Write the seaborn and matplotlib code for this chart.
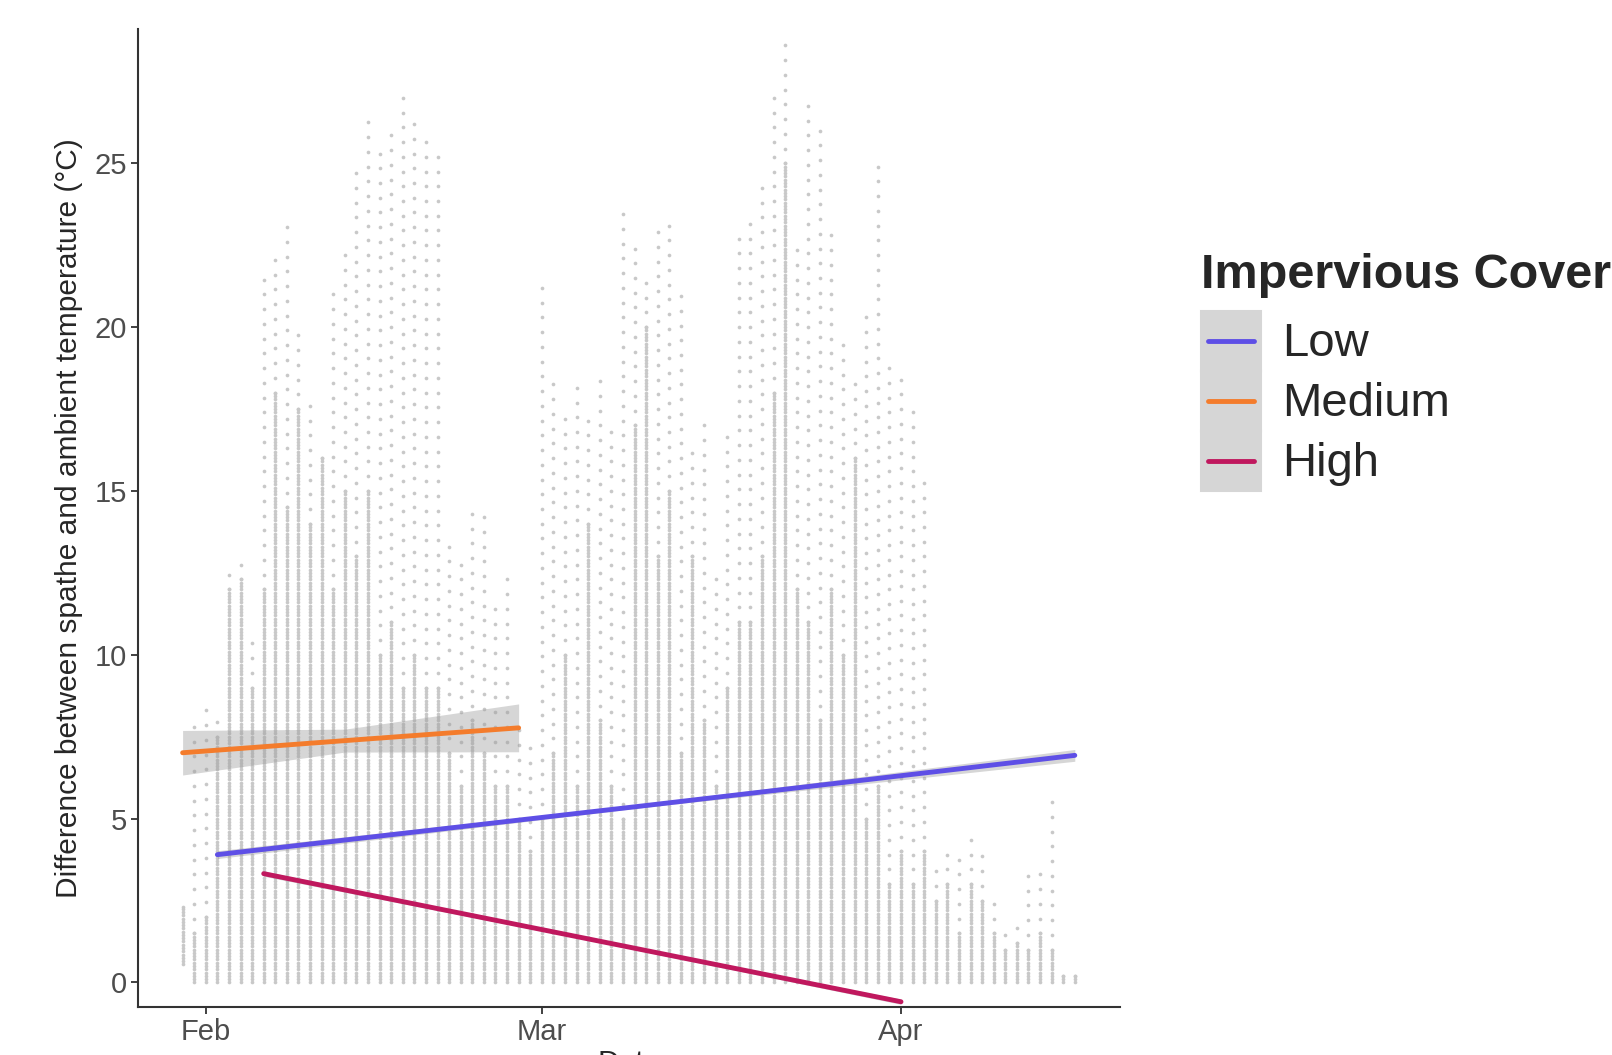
import numpy as np
import pandas as pd
import seaborn as sns
import matplotlib.pyplot as plt
import matplotlib.dates as mdates
from matplotlib.patches import Patch
from matplotlib.lines import Line2D
from matplotlib.legend_handler import HandlerTuple, HandlerLine2D

sns.set_style("ticks")
plt.rcParams['font.family'] = ['Liberation Sans', 'DejaVu Sans']

start = pd.Timestamp("2020-02-01")

# daily readings: day offset from 1 Feb, bottom, top of the dense band, highest reading
day_offset = list(range(-2, 76))
col_low = [0.55] + [0.0] * 77
dense_top = [2.3, 1.5, 2.0, 7.5, 12.0, 12.3, 9.0, 12.0, 18.0, 14.5,
             17.5, 14.0, 16.0, 12.0, 15.0, 13.0, 15.0, 10.0, 11.0, 9.0,
             10.0, 9.0, 9.0, 7.0, 6.0, 8.0, 7.0, 6.0, 6.0, 5.0,
             4.0, 5.0, 7.0, 10.0, 6.0, 14.0, 8.0, 6.0, 5.0, 17.0,
             20.0, 13.0, 15.0, 7.0, 13.0, 8.0, 6.0, 9.0, 11.0, 11.0,
             13.0, 18.0, 25.0, 12.0, 11.0, 8.0, 12.0, 10.0, 16.0, 5.0,
             6.0, 3.0, 4.0, 3.0, 4.0, 2.5, 3.0, 1.5, 3.0, 2.5,
             1.5, 1.0, 1.2, 1.0, 1.5, 1.0, 0.2, 0.2]
col_max = [2.3, 8.0, 8.5, 8.3, 12.7, 12.8, 10.5, 21.7, 22.2, 23.2,
           20.0, 18.0, 16.2, 21.0, 22.5, 24.8, 26.5, 25.5, 26.2, 27.1,
           26.5, 26.0, 25.2, 13.7, 13.0, 14.6, 14.6, 11.5, 12.5, 8.0,
           7.5, 21.5, 18.5, 17.5, 18.2, 17.5, 18.5, 16.8, 23.8, 22.5,
           21.5, 23.0, 23.2, 21.0, 16.5, 17.0, 12.5, 17.0, 22.7, 23.5,
           24.5, 27.0, 29.0, 22.5, 27.0, 26.0, 23.0, 19.5, 18.5, 20.5,
           25.2, 19.0, 18.5, 17.8, 15.5, 3.5, 4.0, 3.8, 4.5, 4.2,
           2.5, 1.8, 1.8, 3.3, 3.5, 5.8, 0.2, 0.2]

# fitted trends per impervious cover class
groups = ["Low", "Medium", "High"]
colors = ["#5E4FE6", "#F47C2C", "#C0185E"]
fit_group = ["Low"] * 3 + ["Medium"] * 3 + ["High"] * 3
fit_day = [1, 38, 75, -2, 12, 27, 5, 32, 60]
fit_value = [3.9, 5.4, 6.93, 7.01, 7.38, 7.77, 3.32, 1.4, -0.59]
fit_half = [0.12, 0.05, 0.18, 0.68, 0.35, 0.73, 0.08, 0.04, 0.08]


class CenteredLine(HandlerLine2D):
    # put the key line in the middle of the grey key box
    def create_artists(self, legend, orig_handle, xdescent, ydescent, width, height, fontsize, trans):
        arts = super().create_artists(legend, orig_handle, xdescent, ydescent, width, height, fontsize, trans)
        for a in arts:
            a.set_ydata([height / 2 - ydescent] * len(a.get_xdata()))
        return arts


pts_x, pts_y = [], []
for d, lo, dt, mx in zip(day_offset, col_low, dense_top, col_max):
    ys = np.concatenate([np.arange(lo, dt + 0.001, 0.1), np.arange(dt, mx + 0.001, 0.45)])
    pts_x += [start + pd.Timedelta(days=d)] * len(ys)
    pts_y += list(ys)
pts = pd.DataFrame({"date": pts_x, "diff": pts_y})

fit = pd.DataFrame({"group": fit_group, "day": fit_day, "value": fit_value, "half": fit_half})
fit["date"] = start + pd.to_timedelta(fit["day"], unit="D")

fig = plt.figure(figsize=(16.12, 10.55), dpi=100)
ax = fig.add_axes([138 / 1612, 48 / 1055, 982 / 1612, 978 / 1055])

sns.scatterplot(data=pts, x="date", y="diff", color="#C8C8C8", s=7, linewidth=0, ax=ax)
for g in groups:
    sub = fit[fit.group == g]
    ax.fill_between(sub.date, sub.value - sub.half, sub.value + sub.half,
                    color="#999999", alpha=0.4, linewidth=0)
sns.lineplot(data=fit, x="date", y="value", hue="group", hue_order=groups,
             palette=colors, linewidth=3.5, estimator=None, legend=False, ax=ax)

ax.set_xlim(start - pd.Timedelta(days=5.85), start + pd.Timedelta(days=78.9))
ax.set_ylim(-0.75, 29.1)
ax.set_yticks([0, 5, 10, 15, 20, 25])
ax.set_xticks([pd.Timestamp("2020-02-01"), pd.Timestamp("2020-03-01"), pd.Timestamp("2020-04-01")])
ax.xaxis.set_major_formatter(mdates.DateFormatter("%b"))
ax.tick_params(labelsize=21, labelcolor="#4D4D4D", color="#333333", length=5, width=1.3, pad=3)
for s in ["left", "bottom"]:
    ax.spines[s].set_color("#333333")
    ax.spines[s].set_linewidth(1.5)
sns.despine(ax=ax)
ax.set_ylabel("Difference between spathe and ambient temperature (°C)", fontsize=21.5, labelpad=8)
ax.set_xlabel("Date", fontsize=21.5, labelpad=2)

handles = [(Patch(facecolor="#D6D6D6", edgecolor="#D6D6D6", linewidth=1.5),
            Line2D([], [], color=c, lw=3.5)) for c in colors]
leg = fig.legend(handles, groups,
                 handler_map={tuple: HandlerTuple(ndivide=1, pad=0), Line2D: CenteredLine(marker_pad=0.15)},
                 loc="upper left", bbox_to_anchor=(1201 / 1612, 1 - 253 / 1055),
                 frameon=False, fontsize=34, title="Impervious Cover", numpoints=2,
                 title_fontproperties={"weight": "bold", "size": 35},
                 handlelength=1.28, handleheight=1.58, labelspacing=0, handletextpad=0.43,
                 borderpad=0, borderaxespad=0, alignment="left")
leg._legend_box.sep = 9

fig.savefig("out.png", dpi=100)
